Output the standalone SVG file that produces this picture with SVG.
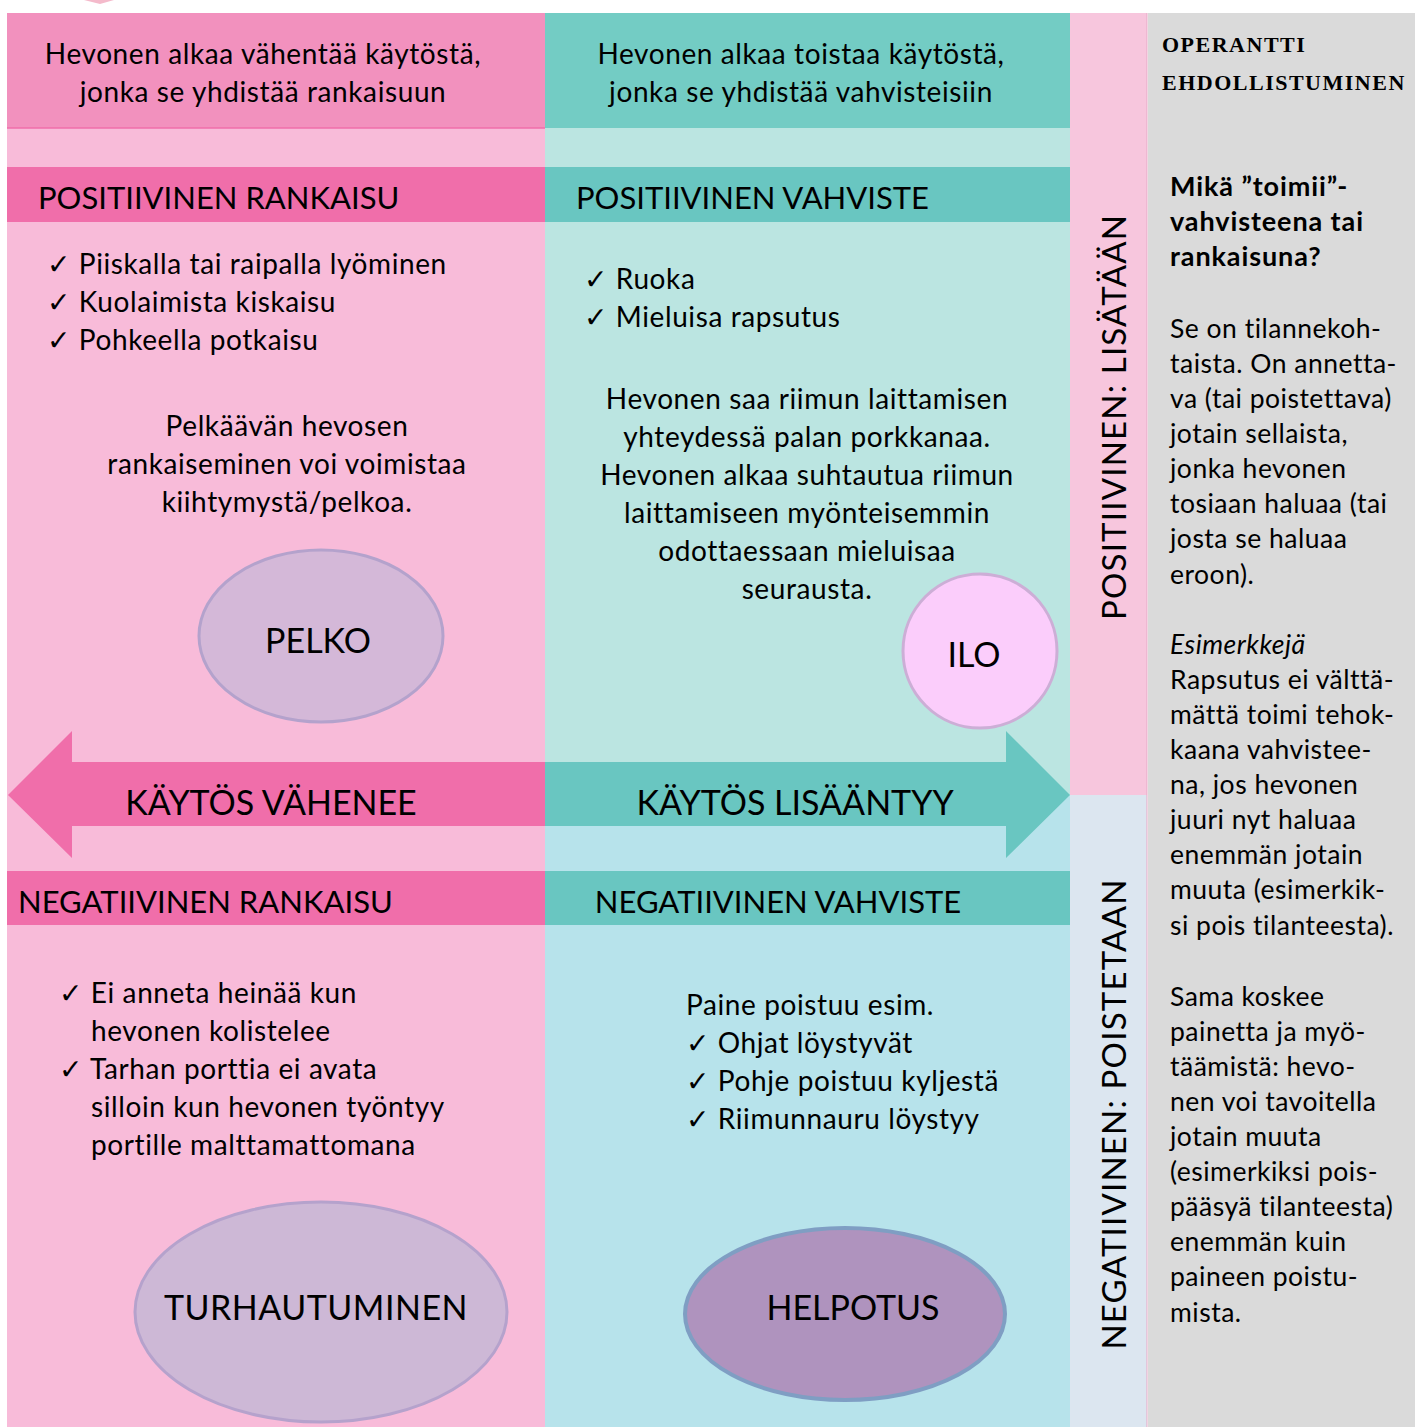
<svg xmlns="http://www.w3.org/2000/svg" width="1415" height="1427" viewBox="0 0 1415 1427">
<style>
text{font-family:Lato,"Open Sans","DejaVu Sans",sans-serif;fill:#000}
.h{font-size:28px;letter-spacing:0.6px}
.t{font-size:28px;letter-spacing:0.6px}
.bar{font-size:31px}
.big{font-size:34px}
.vert{font-size:33px;letter-spacing:1.2px}
.side{font-size:26.5px;letter-spacing:0.5px}
.sb{font-size:27px;letter-spacing:0.9px;font-weight:bold}
.c{text-anchor:middle}
.ser{font-family:"Liberation Serif","DejaVu Serif",serif;font-weight:bold;font-size:22px;letter-spacing:1.5px}
</style>
<rect width="1415" height="1427" fill="#ffffff"/>
<polygon points="84,0 114,0 100,4" fill="#F4BACB"/>
<g id="backgrounds">
<rect x="7" y="13" width="538" height="1414" fill="#F8BBD9"/>
<rect x="545" y="13" width="525" height="782" fill="#BBE5E1"/>
<rect x="545" y="795" width="525" height="632" fill="#B7E3EB"/>
<rect x="1070" y="13" width="77" height="782" fill="#F7C6DD"/>
<rect x="1070" y="795" width="77" height="632" fill="#DCE6F0"/>
<line x1="1147" y1="13" x2="1147" y2="1427" stroke="#E6A9C6" stroke-width="1"/>
<rect x="1148" y="13" width="267" height="1414" fill="#DADADA"/>
</g>
<g id="header-left">
<rect x="7" y="13" width="538" height="115" fill="#F291BE"/>
<line x1="7" y1="128" x2="545" y2="128" stroke="#F06EAA" stroke-width="1.5"/>
<text class="h c" x="263" y="64">Hevonen alkaa vähentää käytöstä,</text>
<text class="h c" x="263" y="102">jonka se yhdistää rankaisuun</text>
</g>
<g id="header-mid">
<rect x="545" y="13" width="525" height="115" fill="#73CCC4"/>
<text class="h c" x="801" y="64">Hevonen alkaa toistaa käytöstä,</text>
<text class="h c" x="801" y="102">jonka se yhdistää vahvisteisiin</text>
</g>
<g id="positive-punishment">
<rect x="7" y="167" width="538" height="55" fill="#F06EAA"/>
<text class="bar" x="38" y="209">POSITIIVINEN RANKAISU</text>
<text class="t" x="47" y="274">✓ Piiskalla tai raipalla lyöminen</text>
<text class="t" x="47" y="312">✓ Kuolaimista kiskaisu</text>
<text class="t" x="47" y="350">✓ Pohkeella potkaisu</text>
<text class="t c" x="287" y="436">Pelkäävän hevosen</text>
<text class="t c" x="287" y="474">rankaiseminen voi voimistaa</text>
<text class="t c" x="287" y="512">kiihtymystä/pelkoa.</text>
</g>
<g id="pelko">
<ellipse cx="321" cy="636" rx="122" ry="86" fill="#D4B8D8" stroke="#B4A2CC" stroke-width="3"/>
<text class="big c" x="318" y="653">PELKO</text>
</g>
<g id="positive-reinforcement">
<rect x="545" y="167" width="525" height="55" fill="#69C6C1"/>
<text class="bar" x="576" y="209">POSITIIVINEN VAHVISTE</text>
<text class="t" x="584" y="289">✓ Ruoka</text>
<text class="t" x="584" y="327">✓ Mieluisa rapsutus</text>
<text class="t c" x="807" y="409">Hevonen saa riimun laittamisen</text>
<text class="t c" x="807" y="447">yhteydessä palan porkkanaa.</text>
<text class="t c" x="807" y="485">Hevonen alkaa suhtautua riimun</text>
<text class="t c" x="807" y="523">laittamiseen myönteisemmin</text>
<text class="t c" x="807" y="561">odottaessaan mieluisaa</text>
<text class="t c" x="807" y="599">seurausta.</text>
</g>
<g id="ilo">
<circle cx="980" cy="651" r="77" fill="#FBCDFB" stroke="#CCAED6" stroke-width="3"/>
<text class="big c" x="974" y="667">ILO</text>
</g>
<g id="connectors">
<polygon points="8,795 72,731 72,762 545,762 545,826 72,826 72,858" fill="#F06EAA"/>
<polygon points="1070,795 1006,731 1006,762 545,762 545,826 1006,826 1006,858" fill="#69C6C1"/>
<text class="big c" x="271" y="815">KÄYTÖS VÄHENEE</text>
<text class="big c" x="795" y="815">KÄYTÖS LISÄÄNTYY</text>
</g>
<g id="negative-punishment">
<rect x="7" y="871" width="538" height="54" fill="#F06EAA"/>
<text class="bar" x="18" y="913">NEGATIIVINEN RANKAISU</text>
<text class="t" x="59" y="1003">✓ Ei anneta heinää kun</text>
<text class="t" x="91" y="1041">hevonen kolistelee</text>
<text class="t" x="59" y="1079">✓ Tarhan porttia ei avata</text>
<text class="t" x="91" y="1117">silloin kun hevonen työntyy</text>
<text class="t" x="91" y="1155">portille malttamattomana</text>
</g>
<g id="turhautuminen">
<ellipse cx="321" cy="1312" rx="186" ry="110" fill="#CDB8D6" stroke="#B5A2CC" stroke-width="3"/>
<text class="big c" x="316" y="1320" letter-spacing="0.5">TURHAUTUMINEN</text>
</g>
<g id="negative-reinforcement">
<rect x="545" y="871" width="525" height="54" fill="#69C6C1"/>
<text class="bar c" x="778" y="913">NEGATIIVINEN VAHVISTE</text>
<text class="t" x="686" y="1015">Paine poistuu esim.</text>
<text class="t" x="686" y="1053">✓ Ohjat löystyvät</text>
<text class="t" x="686" y="1091">✓ Pohje poistuu kyljestä</text>
<text class="t" x="686" y="1129">✓ Riimunnauru löystyy</text>
</g>
<g id="helpotus">
<ellipse cx="845" cy="1314" rx="160" ry="86" fill="#AF93BE" stroke="#7F9EC3" stroke-width="4"/>
<text class="big c" x="853" y="1320">HELPOTUS</text>
</g>
<g id="side-labels">
<text class="vert c" transform="translate(1126,417) rotate(-90)">POSITIIVINEN:  LISÄTÄÄN</text>
<text class="vert c" transform="translate(1126,1114) rotate(-90)">NEGATIIVINEN: POISTETAAN</text>
</g>
<g id="info-panel">
<text class="ser" x="1162" y="52">OPERANTTI</text>
<text class="ser" x="1162" y="90">EHDOLLISTUMINEN</text>
<text class="sb" x="1170" y="196">Mikä ”toimii”-</text>
<text class="sb" x="1170" y="231">vahvisteena tai</text>
<text class="sb" x="1170" y="266">rankaisuna?</text>
<text class="side" x="1170" y="338">Se on tilannekoh-</text>
<text class="side" x="1170" y="373">taista. On annetta-</text>
<text class="side" x="1170" y="408">va (tai poistettava)</text>
<text class="side" x="1170" y="443">jotain sellaista,</text>
<text class="side" x="1170" y="478">jonka hevonen</text>
<text class="side" x="1170" y="513">tosiaan haluaa (tai</text>
<text class="side" x="1170" y="548">josta se haluaa</text>
<text class="side" x="1170" y="584">eroon).</text>
<text class="side" x="1170" y="654" font-style="italic">Esimerkkejä</text>
<text class="side" x="1170" y="689">Rapsutus ei välttä-</text>
<text class="side" x="1170" y="724">mättä toimi tehok-</text>
<text class="side" x="1170" y="759">kaana vahvistee-</text>
<text class="side" x="1170" y="794">na, jos hevonen</text>
<text class="side" x="1170" y="829">juuri nyt haluaa</text>
<text class="side" x="1170" y="864">enemmän jotain</text>
<text class="side" x="1170" y="899">muuta (esimerkik-</text>
<text class="side" x="1170" y="935">si pois tilanteesta).</text>
<text class="side" x="1170" y="1006">Sama koskee</text>
<text class="side" x="1170" y="1041">painetta ja myö-</text>
<text class="side" x="1170" y="1076">täämistä: hevo-</text>
<text class="side" x="1170" y="1111">nen voi tavoitella</text>
<text class="side" x="1170" y="1146">jotain muuta</text>
<text class="side" x="1170" y="1181">(esimerkiksi pois-</text>
<text class="side" x="1170" y="1216">pääsyä tilanteesta)</text>
<text class="side" x="1170" y="1251">enemmän kuin</text>
<text class="side" x="1170" y="1286">paineen poistu-</text>
<text class="side" x="1170" y="1322">mista.</text>
</g>
</svg>
